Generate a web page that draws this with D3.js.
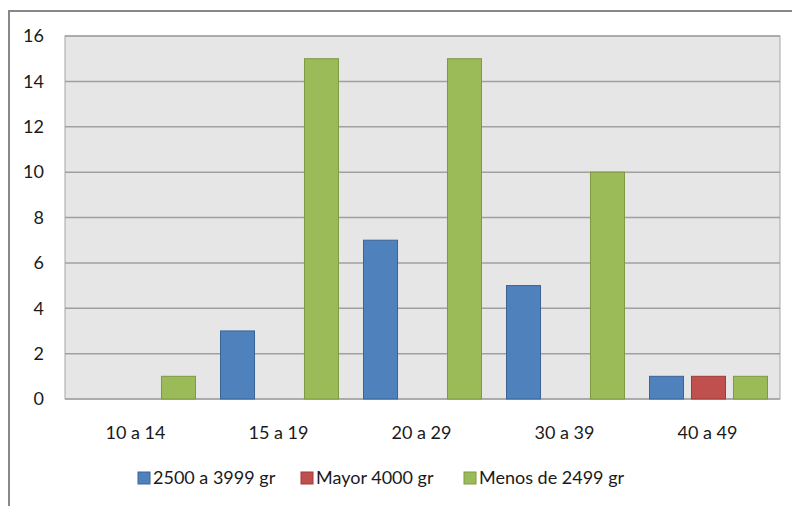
<!DOCTYPE html>
<html><head><meta charset="utf-8">
<script src="https://cdn.jsdelivr.net/npm/d3@7"></script>
<style>body{margin:0;background:#fff}svg{display:block}text{font-family:Lato,"Open Sans",sans-serif;fill:#1a1a1a}</style>
</head><body><svg id="c" width="792" height="506"></svg>
<script>
const categories = ["10 a 14","15 a 19","20 a 29","30 a 39","40 a 49"];
const seriesNames = ["2500 a 3999 gr","Mayor 4000 gr","Menos de 2499 gr"];
const s2500 = [0,3,7,5,1];
const sMayor = [0,0,0,0,1];
const sMenos = [1,15,15,10,1];
const yTicks = [0,2,4,6,8,10,12,14,16];
const fills = ["#4F81BD","#C0504D","#9BBB59"];
const strokes = ["#3A6496","#9C3D3A","#7D9A44"];
const seriesVals = [s2500,sMayor,sMenos];

const svg = d3.select("#c");
svg.append("rect").attr("x",9).attr("y",11).attr("width",800).attr("height",520)
  .attr("fill","#fff").attr("stroke","#888").attr("stroke-width",2);

const m = {l:65,r:780,t:36,b:399};
const x = d3.scaleBand().domain(categories).range([m.l,m.r]);
const xi = d3.scaleBand().domain(seriesNames).range([12.5,130.5]).paddingInner(0.19);
const y = d3.scaleLinear().domain([0,16]).range([m.b,m.t]);

svg.append("rect").attr("x",m.l).attr("y",m.t).attr("width",m.r-m.l).attr("height",m.b-m.t)
  .attr("fill","#E6E6E6").attr("stroke","#A6A6A6").attr("stroke-width",1);

svg.append("g").selectAll("line").data(yTicks).join("line")
  .attr("x1",m.l).attr("x2",m.r).attr("y1",d=>y(d)).attr("y2",d=>y(d))
  .attr("stroke","#A0A0A0").attr("stroke-width",1.5);

svg.append("g").selectAll("text").data(yTicks).join("text")
  .attr("x",44).attr("y",d=>y(d)).attr("dy","0.35em").attr("text-anchor","end")
  .attr("font-size",18).text(d=>d);

seriesNames.forEach((s,si)=>{
  svg.append("g").selectAll("rect").data(categories.map((c,i)=>({c,v:seriesVals[si][i]})).filter(d=>d.v>0)).join("rect")
    .attr("x",d=>x(d.c)+xi(s)).attr("width",xi.bandwidth())
    .attr("y",d=>y(d.v)).attr("height",d=>y(0)-y(d.v))
    .attr("fill",fills[si]).attr("stroke",strokes[si]).attr("stroke-width",1);
});

svg.append("g").selectAll("text").data(categories).join("text")
  .attr("x",d=>x(d)+x.bandwidth()/2-1).attr("y",433).attr("dy","0.35em").attr("text-anchor","middle")
  .attr("font-size",18).text(d=>d);

const legX = [138,301,464];
const lg = svg.append("g");
seriesNames.forEach((s,i)=>{
  lg.append("rect").attr("x",legX[i]).attr("y",472).attr("width",12).attr("height",12)
    .attr("fill",fills[i]).attr("stroke",strokes[i]);
  lg.append("text").attr("x",legX[i]+15).attr("y",478).attr("dy","0.35em").attr("font-size",18).text(s);
});
</script></body></html>
